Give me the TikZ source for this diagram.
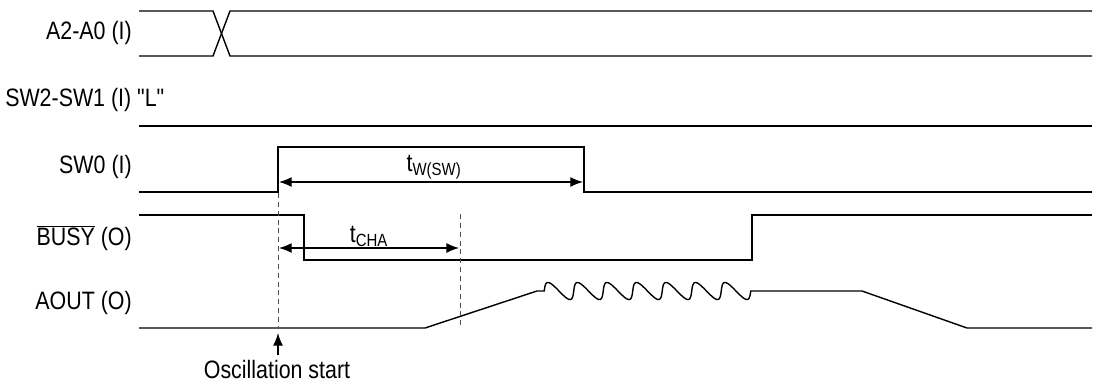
\documentclass[tikz,border=0pt]{standalone}
\usepackage{fontspec}
\setmainfont[FakeStretch=0.85]{Liberation Sans}
\usetikzlibrary{arrows.meta}
\tikzset{>={Latex[length=9pt,width=7pt]}}
\tikzset{sig/.style={line width=1pt},
  guide/.style={line width=0.6pt, black!70, dash pattern=on 3.5pt off 2.8pt},
  lbl/.style={font=\fontsize{17.9}{20}\selectfont, inner sep=0pt}}

\begin{document}
\begin{tikzpicture}[x=0.025cm, y=-0.025cm]
\useasboundingbox (0,0) rectangle (1094,383);
% signal names
\node[lbl, anchor=east] (lA) at (132,33) {A2-A0 (I)};
\node[lbl, anchor=west] (lSW) at (5,100) {\addfontfeature{Ligatures=TeXOff}SW2-SW1 (I) "L"};
\node[lbl, anchor=east] (lSW0) at (132,167) {SW0 (I)};
\node[lbl, anchor=east] (lBusy) at (132,238) {$\overline{\mbox{BUSY}}$ (O)};
\node[lbl, anchor=east] (lAout) at (132,303) {AOUT (O)};
% waveforms
\draw[sig] (139,11) -- (213,11) -- (230,56) -- (1092,56);
\draw[sig] (139,56) -- (213,56) -- (230,11) -- (1092,11);
\draw[sig] (139,126) -- (1092,126);
\draw[sig] (139,192) -- (278,192) -- (278,147) -- (584,147) -- (584,192) -- (1092,192);
\draw[sig] (139,215) -- (304,215) -- (304,260) -- (752,260) -- (752,215) -- (1092,215);
\draw[sig] (139,328) -- (425,328) -- (537,291) -- (544,291)
  -- plot[domain=-90:2430, samples=420, variable=\a] ({548+\a/360*29.5+3.6*(1-cos(\a))}, {291-8.5*cos(\a)})
  -- (753,291) -- (862,291) -- (967,328) -- (1092,328);
% timing marks
\coordinate (st0) at (278,193);
\coordinate (st1) at (278,327);
\coordinate (ch0) at (460,214);
\coordinate (ch1) at (460,327);
\draw[guide] (st0) -- (st1);
\draw[guide] (ch0) -- (ch1);
\coordinate (twL) at (279,182);
\coordinate (twR) at (583,182);
\draw[<->, line width=0.8pt] (twL) -- (twR);
\node[lbl] (tw) at (434,167) {t\textsubscript{W(SW)}};
\coordinate (chL) at (279,248);
\coordinate (chR) at (459,248);
\draw[<->, line width=0.8pt] (chL) -- (chR);
\node[lbl] (tcha) at (369,236) {t\textsubscript{CHA}};
% oscillation start
\node[lbl] (osc) at (277,369) {Oscillation start};
\coordinate (oscTip) at (278,333);
\coordinate (oscTail) at (278,355);
\draw[->, line width=0.8pt] (oscTail) -- (oscTip);
\end{tikzpicture}
\end{document}
